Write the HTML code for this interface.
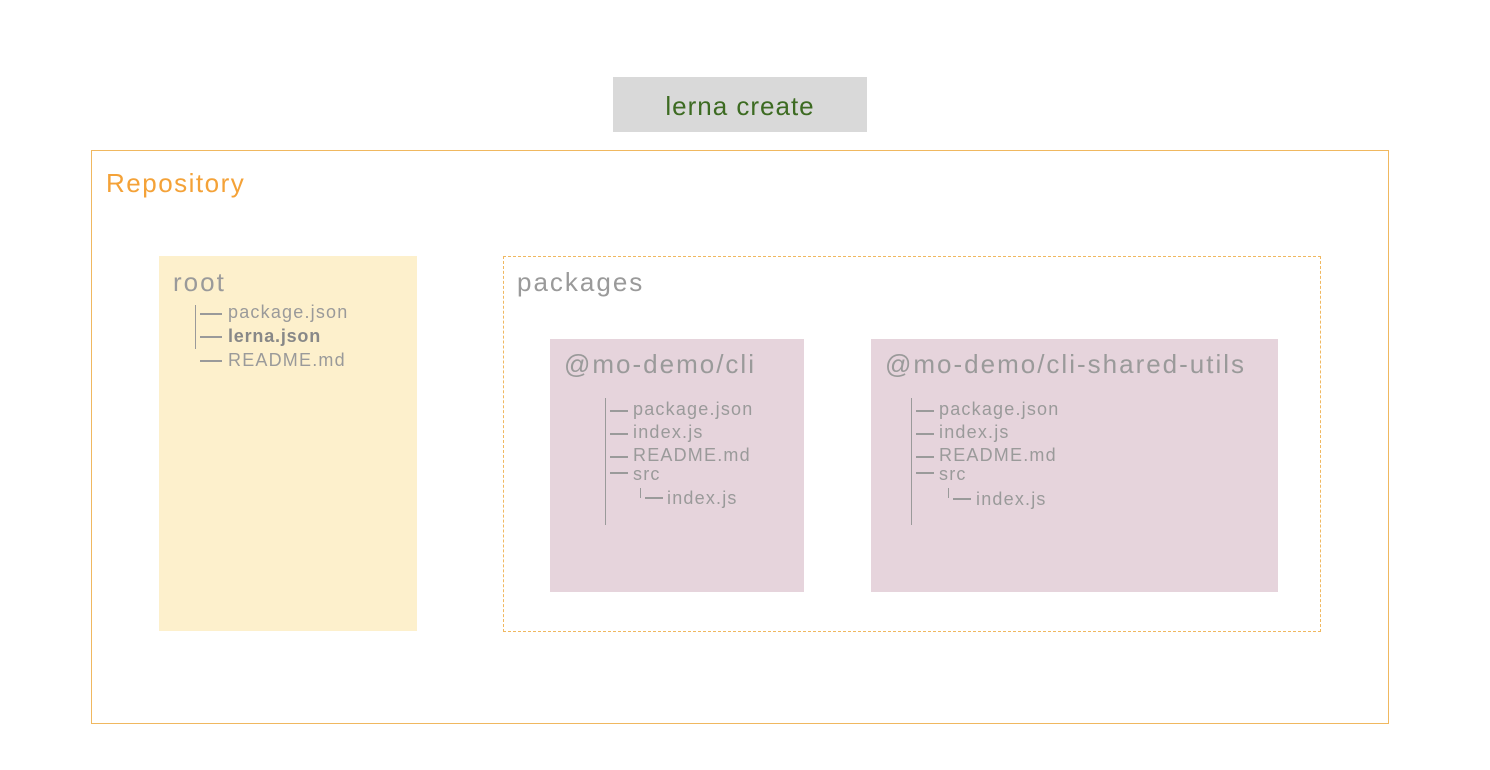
<!DOCTYPE html>
<html><head><meta charset="utf-8"><style>
body{margin:0;width:1490px;height:770px;background:#fff;position:relative;overflow:hidden;font-family:"Liberation Sans",sans-serif;}
.a{position:absolute;box-sizing:border-box;}
.t{position:absolute;white-space:nowrap;color:#9a9a9a;font-size:18px;line-height:20px;letter-spacing:1.2px;}
.h{font-size:26px;line-height:28px;letter-spacing:2px;}
.l{position:absolute;background:#9a9a9a;}
</style></head><body>
<div class="a" style="left:613px;top:77px;width:254px;height:55px;background:#d9d9d9;"></div>
<div class="t" style="left:613px;top:92px;width:254px;text-align:center;color:#3d6b22;font-size:26px;line-height:28px;letter-spacing:1px;">lerna create</div>
<div class="a" style="left:91px;top:150px;width:1298px;height:574px;border:1.5px solid #f0b860;"></div>
<div class="t" style="left:106px;top:169px;color:#f4a238;font-size:26px;line-height:28px;letter-spacing:1.5px;">Repository</div>

<div class="a" style="left:159px;top:256px;width:258px;height:375px;background:#fdf0cc;"></div>
<div class="t h" style="left:173px;top:268px;">root</div>
<div class="l" style="left:195px;top:305px;width:1px;height:44px;"></div>
<div class="l" style="left:200px;top:313px;width:22px;height:1.5px;"></div>
<div class="l" style="left:200px;top:336px;width:22px;height:1.5px;"></div>
<div class="l" style="left:200px;top:360px;width:22px;height:1.5px;"></div>
<div class="t" style="left:228px;top:302px;">package.json</div>
<div class="t" style="left:228px;top:326px;color:#888;font-weight:bold;letter-spacing:0.8px;">lerna.json</div>
<div class="t" style="left:228px;top:350px;">README.md</div>

<div class="a" style="left:503px;top:256px;width:818px;height:376px;border:1.5px dashed #f0b860;"></div>
<div class="t h" style="left:517px;top:268px;">packages</div>

<div class="a" style="left:550px;top:339px;width:254px;height:253px;background:#e6d4dc;"></div>
<div class="t h" style="left:564px;top:350px;">@mo-demo/cli</div>
<div class="l" style="left:605px;top:398px;width:1px;height:127px;"></div>
<div class="l" style="left:610px;top:410px;width:18px;height:1.5px;"></div>
<div class="l" style="left:610px;top:433px;width:18px;height:1.5px;"></div>
<div class="l" style="left:610px;top:456px;width:18px;height:1.5px;"></div>
<div class="l" style="left:610px;top:472px;width:18px;height:1.5px;"></div>
<div class="l" style="left:640px;top:488px;width:1px;height:10px;"></div>
<div class="l" style="left:645px;top:497px;width:18px;height:1.5px;"></div>
<div class="t" style="left:633px;top:399px;">package.json</div>
<div class="t" style="left:633px;top:422px;">index.js</div>
<div class="t" style="left:633px;top:445px;">README.md</div>
<div class="t" style="left:633px;top:464px;">src</div>
<div class="t" style="left:667px;top:488px;">index.js</div>

<div class="a" style="left:871px;top:339px;width:407px;height:253px;background:#e6d4dc;"></div>
<div class="t h" style="left:885px;top:350px;">@mo-demo/cli-shared-utils</div>
<div class="l" style="left:911px;top:398px;width:1px;height:127px;"></div>
<div class="l" style="left:916px;top:410px;width:18px;height:1.5px;"></div>
<div class="l" style="left:916px;top:433px;width:18px;height:1.5px;"></div>
<div class="l" style="left:916px;top:456px;width:18px;height:1.5px;"></div>
<div class="l" style="left:916px;top:472px;width:18px;height:1.5px;"></div>
<div class="l" style="left:948px;top:488px;width:1px;height:10px;"></div>
<div class="l" style="left:953px;top:498px;width:18px;height:1.5px;"></div>
<div class="t" style="left:939px;top:399px;">package.json</div>
<div class="t" style="left:939px;top:422px;">index.js</div>
<div class="t" style="left:939px;top:445px;">README.md</div>
<div class="t" style="left:939px;top:464px;">src</div>
<div class="t" style="left:976px;top:489px;">index.js</div>
</body></html>
